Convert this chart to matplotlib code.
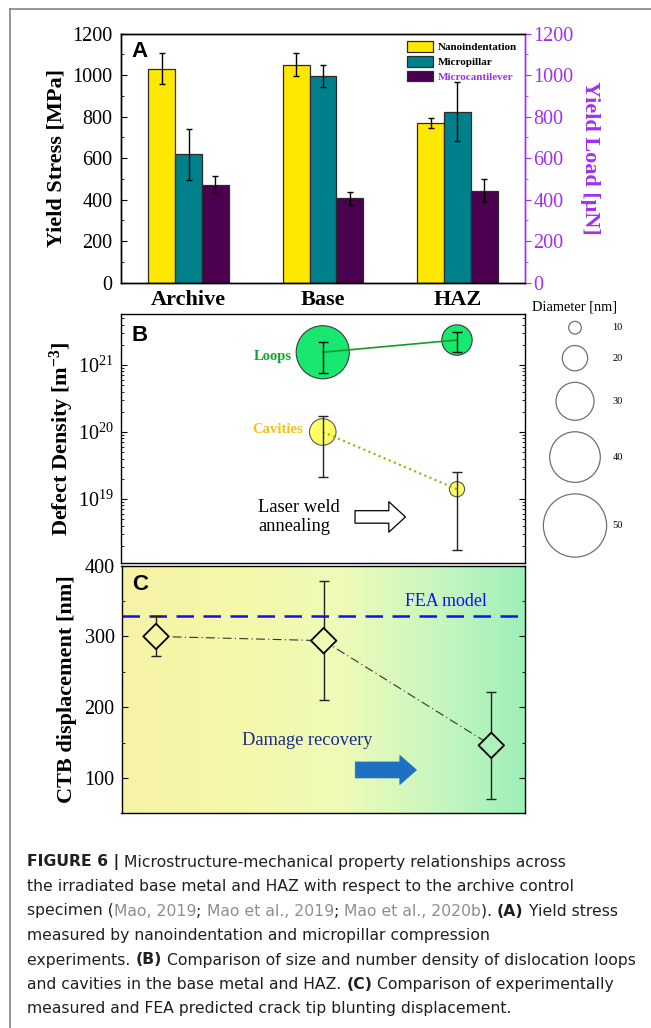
import numpy as np
import matplotlib
matplotlib.use('Agg')
import matplotlib.pyplot as plt
from matplotlib.colors import LinearSegmentedColormap
from matplotlib.ticker import MultipleLocator, LogLocator, NullFormatter

# ---------------- data ----------------
groups = ['Archive', 'Base', 'HAZ']
methods = ['Nanoindentation', 'Micropillar', 'Microcantilever']
nano = [1031, 1050, 770]
nano_err = [75, 56, 26]
pillar = [619, 995, 824]
pillar_err = [124, 54, 143]
cant = [473, 406, 443]
cant_err = [40, 30, 56]

defect_x = [1, 2]                      # Base, HAZ
loop_density = [1.55e21, 2.36e21]
loop_low = [7.7e20, 1.58e21]
loop_high = [2.2e21, 3.1e21]
loop_diam = [42, 24]                   # nm
cav_density = [1.0e20, 1.4e19]
cav_low = [2.15e19, 1.74e18]
cav_high = [1.73e20, 2.56e19]
cav_diam = [21, 12]                    # nm
legend_diams = [10, 20, 30, 40, 50]

ctb = [300, 294, 146]
ctb_low = [272, 210, 70]
ctb_high = [329, 379, 222]
fea_value = 329

caption_lines = [
    [("FIGURE 6 |", 'b'), (" Microstructure-mechanical property relationships across", 'n')],
    [("the irradiated base metal and HAZ with respect to the archive control", 'n')],
    [("specimen (", 'n'), ("Mao, 2019", 'g'), ("; ", 'n'), ("Mao et al., 2019", 'g'), ("; ", 'n'),
     ("Mao et al., 2020b", 'g'), ("). ", 'n'), ("(A)", 'b'), (" Yield stress", 'n')],
    [("measured by nanoindentation and micropillar compression", 'n')],
    [("experiments. ", 'n'), ("(B)", 'b'), (" Comparison of size and number density of dislocation loops", 'n')],
    [("and cavities in the base metal and HAZ. ", 'n'), ("(C)", 'b'), (" Comparison of experimentally", 'n')],
    [("measured and FEA predicted crack tip blunting displacement.", 'n')],
]

# ---------------- style ----------------
serif = 'Liberation Serif'
sans = 'Liberation Sans'
cap_font = 'DejaVu Sans'
plt.rcParams['font.family'] = serif
plt.rcParams['mathtext.fontset'] = 'custom'
plt.rcParams['mathtext.rm'] = 'Liberation Serif'
plt.rcParams['mathtext.bf'] = 'Liberation Serif:bold'
plt.rcParams['mathtext.it'] = 'Liberation Serif:italic'
plt.rcParams['axes.linewidth'] = 1.0

purple = '#A030F0'
tick_fs = 14.5
W, H = 651, 1028
fig = plt.figure(figsize=(W / 100, H / 100), dpi=100)


def rect(l, t, r, b):
    return [l / W, 1 - b / H, (r - l) / W, (b - t) / H]


def px2pt(d):
    return d * 0.72


nm2px = 1.265

# ---------------- Panel A ----------------
axA = fig.add_axes(rect(121, 33.7, 525, 282.7))
x = np.arange(len(groups))
bar_cols = ['#FFE800', '#00808A', '#4A004F']
for i, (vals, errs, c, lab) in enumerate(zip([nano, pillar, cant],
                                             [nano_err, pillar_err, cant_err],
                                             bar_cols, methods)):
    axA.bar(x + (i - 1) * 0.2, vals, 0.2, yerr=errs, color=c, edgecolor='#2a2a2a',
            linewidth=0.9, label=lab,
            error_kw=dict(ecolor='black', elinewidth=1, capsize=2.5, capthick=1))
axA.set_xlim(-0.503, 2.503)
axA.set_ylim(0, 1200)
axA.set_xticks(x)
axA.set_xticklabels(groups, fontsize=16, fontweight='bold')
axA.tick_params(axis='x', length=0, pad=5)
axA.yaxis.set_major_locator(MultipleLocator(200))
axA.yaxis.set_minor_locator(MultipleLocator(100))
axA.tick_params(axis='y', which='both', direction='in', labelsize=tick_fs, pad=6)
axA.tick_params(axis='y', which='major', length=4)
axA.tick_params(axis='y', which='minor', length=2.5)
axA.spines['right'].set_color(purple)
axA.set_ylabel('Yield Stress [MPa]', fontsize=16, fontweight='bold')
axA.yaxis.set_label_coords(-0.135, 0.5)
axA.text(0.047, 0.93, 'A', transform=axA.transAxes, fontfamily=sans, fontweight='bold',
         fontsize=16, ha='center', va='center')
leg = axA.legend(loc='upper right', frameon=False,
                 prop=dict(family=serif, weight='bold', size=8),
                 handlelength=2.3, handleheight=1.05, labelspacing=0.35,
                 handletextpad=0.5, borderaxespad=0.3)
leg.get_texts()[2].set_color(purple)

ax2 = axA.twinx()
ax2.set_ylim(0, 1200)
ax2.yaxis.set_major_locator(MultipleLocator(200))
ax2.yaxis.set_minor_locator(MultipleLocator(100))
ax2.tick_params(axis='y', which='both', direction='out', colors=purple, labelsize=tick_fs, pad=2)
ax2.tick_params(axis='y', which='major', length=4)
ax2.tick_params(axis='y', which='minor', length=2.5)
ax2.spines['right'].set_color(purple)
ax2.set_ylabel('Yield Load [\u03bcN]', fontsize=16, fontweight='bold', color=purple,
               rotation=270, va='bottom')
ax2.yaxis.set_label_coords(1.135, 0.5)

# ---------------- Panel B ----------------
axB = fig.add_axes(rect(121, 314, 524.5, 562.7))
axB.set_yscale('log')
axB.set_ylim(1.12e18, 5.77e21)
axB.set_xlim(-0.503, 2.503)
axB.set_xticks([])
axB.yaxis.set_major_locator(LogLocator(base=10, numticks=10))
axB.yaxis.set_minor_locator(LogLocator(base=10, subs=np.arange(2, 10), numticks=20))
axB.yaxis.set_minor_formatter(NullFormatter())
axB.tick_params(axis='y', which='both', direction='in', right=True, labelsize=tick_fs, pad=5)
axB.tick_params(axis='y', which='major', length=4)
axB.tick_params(axis='y', which='minor', length=2)

loop_s = [px2pt(d * nm2px) ** 2 for d in loop_diam]
cav_s = [px2pt(d * nm2px) ** 2 for d in cav_diam]
axB.scatter(defect_x, loop_density, s=loop_s, c='#18E870', edgecolors='#3a3a3a',
            linewidths=0.8, zorder=2)
axB.scatter(defect_x, cav_density, s=cav_s, c='#FFFF66', edgecolors='#555555',
            linewidths=0.8, zorder=2)
axB.plot(defect_x, loop_density, color='#169A2A', lw=1.2, zorder=3)
axB.plot(defect_x, cav_density, color='#A8A800', lw=1.5, ls=':', zorder=3)
axB.errorbar(defect_x, loop_density,
             yerr=[np.subtract(loop_density, loop_low), np.subtract(loop_high, loop_density)],
             fmt='none', ecolor='black', elinewidth=1, capsize=3.5, capthick=1, zorder=4)
axB.errorbar(defect_x, cav_density,
             yerr=[np.subtract(cav_density, cav_low), np.subtract(cav_high, cav_density)],
             fmt='none', ecolor='#222222', elinewidth=1, capsize=3.5, capthick=1, zorder=4)
axB.set_ylabel('Defect Density [m$^{\\mathbf{-3}}$]', fontsize=16, fontweight='bold')
axB.yaxis.set_label_coords(-0.112, 0.5)
axB.text(0.047, 0.915, 'B', transform=axB.transAxes, fontfamily=sans, fontweight='bold',
         fontsize=16, ha='center', va='center')
axB.text(0.375, 0.831, 'Loops', transform=axB.transAxes, color='#12A030',
         fontweight='bold', fontsize=10.5, ha='center', va='center')
axB.text(0.387, 0.534, 'Cavities', transform=axB.transAxes, color='#F5C210',
         fontweight='bold', fontsize=10.5, ha='center', va='center')
axB.text(0.34, 0.184, 'Laser weld\nannealing', transform=axB.transAxes, color='black',
         fontsize=13.3, ha='left', va='center', linespacing=1.2)
axB.annotate('', xy=(0.705, 0.184), xytext=(0.58, 0.184), xycoords='axes fraction',
             arrowprops=dict(arrowstyle='simple,head_length=12,head_width=22,tail_width=9',
                             mutation_scale=1, fc='white', ec='black', lw=0.9,
                             shrinkA=0, shrinkB=0))

# ---------------- Panel C ----------------
axC = fig.add_axes(rect(121.5, 565.7, 524.5, 813.3))
xlimC = (-0.206, 2.198)
cmap = LinearSegmentedColormap.from_list('bg', [(0, '#F7F3A6'), (0.3, '#F5F8AA'),
                                                (0.55, '#EEFBB8'), (0.8, '#C6F6C0'),
                                                (1, '#9EEFB8')])
axC.imshow(np.linspace(0, 1, 256).reshape(1, -1), cmap=cmap, aspect='auto',
           extent=(xlimC[0], xlimC[1], 50, 400), zorder=0)
axC.set_xlim(*xlimC)
axC.set_ylim(50, 400)
axC.set_xticks([])
axC.yaxis.set_major_locator(MultipleLocator(100))
axC.yaxis.set_minor_locator(MultipleLocator(50))
axC.tick_params(axis='y', which='both', direction='in', right=True, labelsize=tick_fs, pad=5)
axC.tick_params(axis='y', which='major', length=4)
axC.tick_params(axis='y', which='minor', length=2.5)
xc = np.arange(len(ctb))
axC.axhline(fea_value, color='#1010F0', lw=1.8, ls=(0, (7, 3.8)), zorder=2)
axC.errorbar(xc, ctb, yerr=[np.subtract(ctb, ctb_low), np.subtract(ctb_high, ctb)],
             fmt='none', ecolor='#222222', elinewidth=1, capsize=3.6, capthick=1, zorder=2)
axC.plot(xc, ctb, color='#333333', lw=0.8, ls=(0, (8, 3, 1, 3)), zorder=3)
face = [cmap((xi - xlimC[0]) / (xlimC[1] - xlimC[0])) for xi in xc]
axC.scatter(xc, ctb, marker='D', s=px2pt(18) ** 2, c=face, edgecolors='black',
            linewidths=1.3, zorder=4)
axC.set_ylabel('CTB displacement [nm]', fontsize=16, fontweight='bold')
axC.yaxis.set_label_coords(-0.11, 0.5)
axC.text(0.045, 0.925, 'C', transform=axC.transAxes, fontfamily=sans, fontweight='bold',
         fontsize=16, ha='center', va='center')
axC.text(0.805, 0.855, 'FEA model', transform=axC.transAxes, color='#1010F0',
         fontsize=12.9, ha='center', va='center')
axC.text(0.46, 0.295, 'Damage recovery', transform=axC.transAxes, color='#1C2A8C',
         fontsize=13.2, ha='center', va='center')
axC.annotate('', xy=(0.732, 0.175), xytext=(0.58, 0.175), xycoords='axes fraction',
             arrowprops=dict(arrowstyle='simple,head_length=12,head_width=21,tail_width=11.5',
                             mutation_scale=1, fc='#1F6FC2', ec='#1F6FC2', lw=0.5,
                             shrinkA=0, shrinkB=0))

# ---------------- overlay (pixel coords) ----------------
ov = fig.add_axes([0, 0, 1, 1], zorder=5)
ov.set_xlim(0, W)
ov.set_ylim(H, 0)
ov.axis('off')
ov.plot([9.5, 9.5], [H, 9], color='#7a7a7a', lw=1.1, clip_on=False)
ov.plot([9.5, W], [9, 9], color='#7a7a7a', lw=1.1, clip_on=False)

# size legend
ov.text(575, 307, 'Diameter [nm]', fontsize=10.4, ha='center', va='center')
cy = 327.7
prev = None
for d in legend_diams:
    dp = d * nm2px
    if prev is not None:
        cy += prev / 2 + 11.5 + dp / 2
    ov.scatter([575], [cy], s=px2pt(dp) ** 2, facecolors='none', edgecolors='#707070',
               linewidths=0.9)
    ov.text(617.7, cy, str(d), fontsize=7.5, ha='center', va='center')
    prev = dp

# caption
renderer = fig.canvas.get_renderer()
styles = {'n': dict(color='#231F20', fontweight='normal'),
          'b': dict(color='#231F20', fontweight='bold'),
          'g': dict(color='#8E8E8E', fontweight='normal')}


def seg_width(s, size, st):
    kw = dict(fontfamily=cap_font, fontsize=size, **styles[st])
    t = ov.text(0, 0, '|' + s + '|', **kw)
    w1 = t.get_window_extent(renderer).width
    t.remove()
    t = ov.text(0, 0, '||', **kw)
    w2 = t.get_window_extent(renderer).width
    t.remove()
    return w1 - w2


base = 10.5
w5 = sum(seg_width(s, base, st) for s, st in caption_lines[4])
cap_size = base * 611 / w5
for li, line in enumerate(caption_lines):
    xx = 27
    yy = 866.5 + li * 24.5
    for s, st in line:
        ov.text(xx, yy, s, fontfamily=cap_font, fontsize=cap_size, va='baseline', ha='left',
                **styles[st])
        xx += seg_width(s, cap_size, st)

fig.savefig('out.png', dpi=100)
